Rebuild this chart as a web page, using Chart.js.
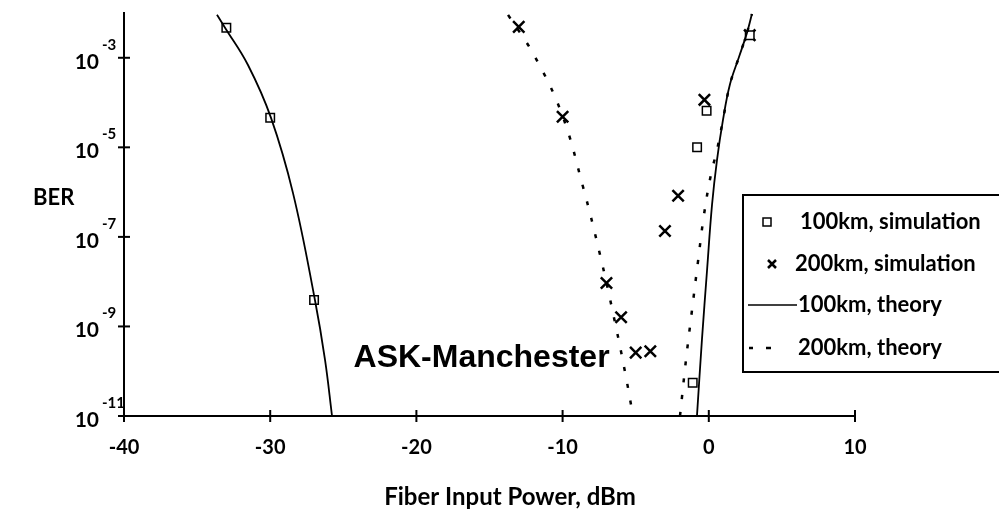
<!DOCTYPE html>
<html>
<head>
<meta charset="utf-8">
<title>BER vs fiber input power</title>
<script src="https://cdn.jsdelivr.net/npm/chart.js@4"></script>
<style>
    html, body { margin: 0; padding: 0; background: #fff; }
    canvas { display: block; }
</style>
</head>
<body>
<canvas id="berChart" width="999" height="512"></canvas>
<script>
// values: fiber input power (dBm) and BER
const sim100Power = [-33, -30, -27, -1.1, -0.8, -0.15, 2.8];
const sim100Ber = [4.7e-3, 4.6e-5, 3.9e-9, 5.5e-11, 1.0e-5, 6.6e-5, 3.2e-3];

const sim200Power = [-13, -10, -7, -6, -5, -4, -3, -2.1, -0.3, 2.8];
const sim200Ber = [4.9e-3, 4.8e-5, 9.3e-9, 1.6e-9, 2.6e-10, 2.8e-10, 1.35e-7, 8.3e-7, 1.15e-4, 3.2e-3];

// theory curves, each has a left and a right branch
const theory100LeftPower = [-33.64, -33.09, -31.52, -29.95, -28.44, -26.94, -26.25, -25.77];
const theory100LeftBer = [9.1e-3, 4.7e-3, 6.9e-4, 4.6e-5, 9.5e-7, 3.9e-9, 1.8e-10, 1e-11];
const theory100RightPower = [-0.81, -0.47, -0.12, 0.22, 0.56, 0.97, 1.44, 2.07, 2.61, 2.95];
const theory100RightBer = [1e-11, 5.0e-10, 1.8e-8, 5.2e-7, 5.2e-6, 4.1e-5, 2.5e-4, 1.05e-3, 3.6e-3, 9.5e-3];

const theory200LeftPower = [-13.73, -11.89, -10.04, -8.6, -7.44, -6.48, -5.73, -5.18];
const theory200LeftBer = [9.1e-3, 1.05e-3, 5.4e-5, 1.3e-6, 4.0e-8, 1.55e-9, 9.6e-11, 1e-11];
const theory200RightPower = [-1.97, -1.56, -1.15, -0.74, -0.33, 0.15, 0.56, 0.97, 1.44, 2.07, 2.61, 2.95];
const theory200RightBer = [1e-11, 1.8e-10, 2.3e-9, 2.8e-8, 3.1e-7, 2.5e-6, 8.7e-6, 4.1e-5, 2.5e-4, 1.05e-3, 3.6e-3, 9.5e-3];

const xTicks = [-40, -30, -20, -10, 0, 10];
const yTicks = [1e-3, 1e-5, 1e-7, 1e-9, 1e-11];

const legendLabels = ["100km, simulation", "200km, simulation", "100km, theory", "200km, theory"];
const xTitle = "Fiber Input Power, dBm";
const yTitle = "BER";
const note = "ASK-Manchester";

const FONT = "Lato, 'DejaVu Sans', sans-serif";

const pts = (xs, ys) => xs.map((x, i) => ({ x: x, y: ys[i] }));

function theoryLine(xs, ys, dashed) {
    return {
        data: pts(xs, ys),
        showLine: true,
        pointRadius: 0,
        borderColor: "#000",
        borderWidth: dashed ? 2.5 : 1.8,
        borderDash: dashed ? [4, 13] : [],
        tension: 0.4,
        fill: false
    };
}

// axis ticks crossing the axes, y labels with exponents, titles, legend box
const decorations = {
    id: "decorations",
    afterDraw(chart) {
        const ctx = chart.ctx;
        const area = chart.chartArea;
        const xs = chart.scales.x;
        const ys = chart.scales.y;

        ctx.save();
        ctx.strokeStyle = "#000";
        ctx.fillStyle = "#000";
        ctx.lineWidth = 2;

        xTicks.forEach(v => {
            const px = xs.getPixelForValue(v);
            ctx.beginPath();
            ctx.moveTo(px, area.bottom - 6);
            ctx.lineTo(px, area.bottom + 6);
            ctx.stroke();
        });
        yTicks.forEach(v => {
            const py = ys.getPixelForValue(v);
            ctx.beginPath();
            ctx.moveTo(area.left - 6, py);
            ctx.lineTo(area.left + 6, py);
            ctx.stroke();

            ctx.textBaseline = "middle";
            ctx.textAlign = "right";
            ctx.font = "bold 21px " + FONT;
            ctx.fillText("10", 99, py + 4);
            ctx.textAlign = "left";
            ctx.font = "bold 15px " + FONT;
            ctx.fillText(String(Math.round(Math.log10(v))), 102, py - 13);
        });

        // axis titles
        ctx.textAlign = "left";
        ctx.textBaseline = "middle";
        ctx.font = "bold 22px " + FONT;
        ctx.fillText(yTitle, 33, 198);
        ctx.textAlign = "center";
        ctx.font = "bold 24px " + FONT;
        ctx.fillText(xTitle, 510, 497);

        // annotation
        ctx.textAlign = "left";
        ctx.font = "bold 32px 'Liberation Sans', Arial, sans-serif";
        ctx.fillText(note, xs.getPixelForValue(-24.3), ys.getPixelForValue(2e-10));

        // legend box
        const bx = 743, by = 195, bh = 177;
        ctx.fillStyle = "#fff";
        ctx.fillRect(bx, by, 270, bh);
        ctx.fillStyle = "#000";
        ctx.lineWidth = 2;
        ctx.strokeRect(bx, by, 270, bh);

        const rows = [222, 264, 305, 348];
        const textX = [800, 795, 798, 798];

        // square
        ctx.lineWidth = 1.5;
        ctx.strokeRect(763, rows[0] - 4, 8, 8);
        // cross
        ctx.lineWidth = 2.5;
        ctx.beginPath();
        ctx.moveTo(768, rows[1] - 4); ctx.lineTo(776, rows[1] + 4);
        ctx.moveTo(776, rows[1] - 4); ctx.lineTo(768, rows[1] + 4);
        ctx.stroke();
        // solid
        ctx.lineWidth = 1.5;
        ctx.beginPath();
        ctx.moveTo(748, rows[2]); ctx.lineTo(797, rows[2]);
        ctx.stroke();
        // dashes
        ctx.lineWidth = 2.5;
        ctx.beginPath();
        ctx.moveTo(749, rows[3]); ctx.lineTo(753, rows[3]);
        ctx.moveTo(766, rows[3]); ctx.lineTo(771, rows[3]);
        ctx.stroke();

        ctx.font = "bold 22px " + FONT;
        ctx.textAlign = "left";
        ctx.textBaseline = "middle";
        legendLabels.forEach((t, i) => ctx.fillText(t, textX[i], rows[i]));

        ctx.restore();
    }
};

new Chart(document.getElementById("berChart"), {
    type: "scatter",
    data: {
        datasets: [
            theoryLine(theory100LeftPower, theory100LeftBer, false),
            theoryLine(theory100RightPower, theory100RightBer, false),
            theoryLine(theory200LeftPower, theory200LeftBer, true),
            theoryLine(theory200RightPower, theory200RightBer, true),
            {
                data: pts(sim100Power, sim100Ber),
                pointStyle: "rect",
                pointRadius: 6,
                borderWidth: 1.5,
                borderColor: "#000",
                backgroundColor: "#fff"
            },
            {
                data: pts(sim200Power, sim200Ber),
                pointStyle: "crossRot",
                pointRadius: 8,
                borderWidth: 2.5,
                borderColor: "#000",
                backgroundColor: "#000"
            }
        ]
    },
    options: {
        responsive: false,
        animation: false,
        devicePixelRatio: 1,
        layout: { padding: { top: 13, right: 144, left: 0, bottom: 0 } },
        plugins: {
            legend: { display: false },
            tooltip: { enabled: false }
        },
        scales: {
            x: {
                type: "linear",
                min: -40,
                max: 10,
                afterBuildTicks: s => { s.ticks = xTicks.map(v => ({ value: v })); },
                afterFit: s => { s.height = 96; },
                grid: { display: false, drawTicks: false },
                border: { display: true, color: "#000", width: 2 },
                ticks: {
                    color: "#000",
                    padding: 20,
                    maxRotation: 0,
                    autoSkip: false,
                    font: { family: FONT, size: 20, weight: "bold" }
                }
            },
            y: {
                type: "logarithmic",
                min: 1e-11,
                max: 1e-2,
                afterBuildTicks: s => { s.ticks = yTicks.map(v => ({ value: v })); },
                afterFit: s => { s.width = 124; },
                grid: { display: false, drawTicks: false },
                border: { display: true, color: "#000", width: 2 },
                ticks: { display: false }
            }
        }
    },
    plugins: [decorations]
});
</script>
</body>
</html>
